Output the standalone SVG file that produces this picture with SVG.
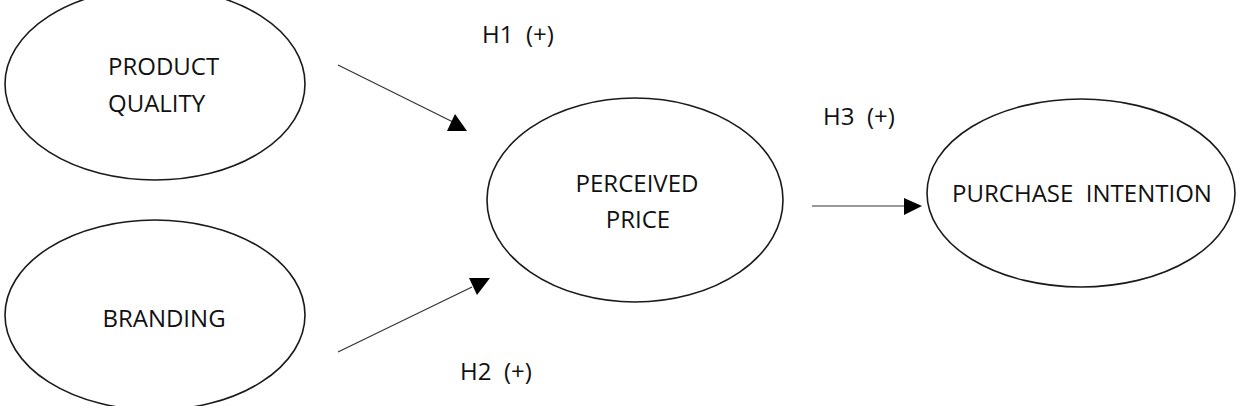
<svg xmlns="http://www.w3.org/2000/svg" width="1248" height="406" viewBox="0 0 1248 406">
<style>
.node ellipse{fill:#fff;stroke:#1a1a1a;stroke-width:1.6}
text{font-family:"Open Sans","DejaVu Sans",sans-serif;font-size:24px;fill:#111}
.conn line{stroke:#333;stroke-width:1.2}
.conn polygon{fill:#000}
</style>
<rect width="1248" height="406" fill="#fff"/>
<g id="product-quality" class="node">
<ellipse cx="155" cy="84" rx="150" ry="96"/>
<text x="108" y="75">PRODUCT</text>
<text x="108" y="112">QUALITY</text>
</g>
<g id="branding" class="node">
<ellipse cx="155" cy="315" rx="150" ry="95"/>
<text x="164" y="327" text-anchor="middle">BRANDING</text>
</g>
<g id="perceived-price" class="node">
<ellipse cx="635" cy="200" rx="148" ry="102"/>
<text x="637" y="192" text-anchor="middle">PERCEIVED</text>
<text x="638" y="228" text-anchor="middle">PRICE</text>
</g>
<g id="purchase-intention" class="node">
<ellipse cx="1081" cy="193" rx="154" ry="94"/>
<text x="1082" y="202" text-anchor="middle" xml:space="preserve">PURCHASE  INTENTION</text>
</g>
<g id="connectors" class="conn">
<line x1="338" y1="65" x2="453" y2="122"/>
<polygon points="455,114 447,131 467,131"/>
<line x1="338" y1="352" x2="472" y2="287"/>
<polygon points="469,278 490,278 477,295"/>
<line x1="812" y1="206" x2="905" y2="206"/>
<polygon points="904,198 904,215 922,206"/>
</g>
<g id="labels">
<text x="482" y="43" xml:space="preserve">H1  (+)</text>
<text x="460" y="380" xml:space="preserve">H2  (+)</text>
<text x="823" y="125" xml:space="preserve">H3  (+)</text>
</g>
</svg>
